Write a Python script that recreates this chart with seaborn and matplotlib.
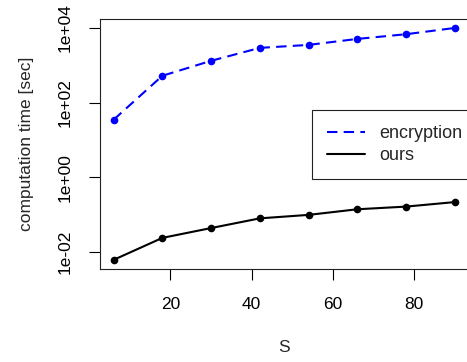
import numpy as np
import pandas as pd
import matplotlib
matplotlib.use("Agg")
import matplotlib.pyplot as plt
from matplotlib.lines import Line2D
import seaborn as sns

# data
S = [6, 18, 30, 42, 54, 66, 78, 90]
encryption = [35, 525, 1320, 2930, 3520, 5090, 6800, 10000]
ours = [0.0062, 0.024, 0.044, 0.080, 0.099, 0.140, 0.165, 0.218]
methods = ['encryption', 'ours']
ytick_vals = [1e-2, 1e0, 1e2, 1e4]
ytick_labels = ['1e-02', '1e+00', '1e+02', '1e+04']
xtick_vals = [20, 40, 60, 80]

df = pd.DataFrame({
    'S': S + S,
    'time': encryption + ours,
    'method': ['encryption'] * len(S) + ['ours'] * len(S),
})

sns.set_style('white')
plt.rcParams['font.family'] = ['Liberation Sans', 'DejaVu Sans']

COLORS = {'encryption': 'blue', 'ours': 'black'}
DASHES = {'encryption': (5, 3), 'ours': ''}
FS = 12.5

fig = plt.figure(figsize=(4.67, 3.62), dpi=100)
ax = fig.add_axes([100 / 467, 93 / 362, 368.4 / 467, 250.3 / 362])

sns.lineplot(data=df, x='S', y='time', hue='method', style='method',
             palette=COLORS, dashes=DASHES,
             markers={'encryption': 'o', 'ours': 'o'},
             markersize=5.5, markeredgewidth=0, linewidth=1.5,
             legend=False, ax=ax)

ax.set_yscale('log')
ax.set_xlim(2.64, 93.36)
ax.set_ylim(10 ** -2.453, 10 ** 4.248)
ax.set_xticks(xtick_vals)
ax.set_xticklabels([str(v) for v in xtick_vals])
ax.set_yticks(ytick_vals)
ax.set_yticklabels(ytick_labels)
ax.yaxis.set_minor_locator(matplotlib.ticker.NullLocator())

ax.tick_params(axis='both', direction='out', length=8, width=0.8,
               color='black', labelsize=FS, labelcolor='black')
ax.tick_params(axis='x', pad=12, bottom=True)
ax.tick_params(axis='y', pad=12, left=True, labelrotation=90)
for lab in ax.get_yticklabels():
    lab.set_va('center')

for sp in ax.spines.values():
    sp.set_color('#222222')
    sp.set_linewidth(0.8)

ax.set_xlabel('S', fontsize=FS, labelpad=20)
ax.set_ylabel('computation time [sec]', fontsize=FS, labelpad=17)

handles = [Line2D([], [], color=COLORS[m], linewidth=1.5,
                  dashes=DASHES[m] if DASHES[m] else (None, None),
                  linestyle='--' if DASHES[m] else '-')
           for m in methods]
leg = ax.legend(handles, methods, loc='upper left',
                bbox_to_anchor=(0.5747, 0.635), borderaxespad=0,
                fontsize=13, frameon=True, fancybox=False,
                handlelength=2.1, handletextpad=0.83, borderpad=0.83,
                labelspacing=0.3)
leg.get_frame().set_edgecolor('#222222')
leg.get_frame().set_linewidth(0.8)
leg.get_frame().set_alpha(1)

fig.savefig('out.png', dpi=100)
